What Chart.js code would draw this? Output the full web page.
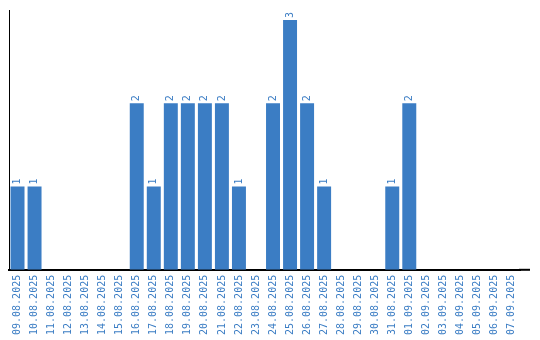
<!DOCTYPE html>
<html>
<head>
<meta charset="utf-8">
<script src="https://cdn.jsdelivr.net/npm/chart.js@4.4.1/dist/chart.umd.min.js"></script>
<style>
  html, body { margin: 0; padding: 0; background: #fff; }
  #wrap { width: 540px; height: 340px; }
</style>
</head>
<body>
<div id="wrap"><canvas id="dateChart"></canvas></div>
<script>
const dateLabels = [
  '09.08.2025', '10.08.2025', '11.08.2025', '12.08.2025', '13.08.2025',
  '14.08.2025', '15.08.2025', '16.08.2025', '17.08.2025', '18.08.2025',
  '19.08.2025', '20.08.2025', '21.08.2025', '22.08.2025', '23.08.2025',
  '24.08.2025', '25.08.2025', '26.08.2025', '27.08.2025', '28.08.2025',
  '29.08.2025', '30.08.2025', '31.08.2025', '01.09.2025', '02.09.2025',
  '03.09.2025', '04.09.2025', '05.09.2025', '06.09.2025', '07.09.2025'
];
const counts = [1, 1, 0, 0, 0, 0, 0, 2, 1, 2, 2, 2, 2, 1, 0, 2, 3, 2, 1, 0, 0, 0, 1, 2, 0, 0, 0, 0, 0, 0];

const blue = '#3b7dc4';
const monoFont = { family: 'DejaVu Sans Mono', size: 10 };

// draws the value above each bar, turned upright like the dates
const barValues = {
    id: 'barValues',
    afterDatasetsDraw(chart) {
        const ctx = chart.ctx;
        const meta = chart.getDatasetMeta(0);
        ctx.save();
        ctx.fillStyle = blue;
        ctx.font = '10px "DejaVu Sans Mono"';
        ctx.textAlign = 'left';
        ctx.textBaseline = 'middle';
        meta.data.forEach((bar, i) => {
            if (!counts[i]) return;
            ctx.save();
            ctx.translate(bar.x, bar.y - 2);
            ctx.rotate(-Math.PI / 2);
            ctx.fillText(String(counts[i]), 0, 0);
            ctx.restore();
        });
        // x axis line runs a little past the last day
        const area = chart.chartArea;
        ctx.strokeStyle = '#000';
        ctx.lineWidth = 2;
        ctx.beginPath();
        ctx.moveTo(area.right - 1, area.bottom);
        ctx.lineTo(area.right + 10, area.bottom);
        ctx.stroke();
        ctx.restore();
    }
};

const ctx = document.getElementById('dateChart').getContext('2d');
window.myChart = new Chart(ctx, {
    type: 'bar',
    data: {
        labels: dateLabels,
        datasets: [{
            data: counts,
            backgroundColor: blue,
            borderWidth: 0,
            barPercentage: 0.82,
            categoryPercentage: 1
        }]
    },
    options: {
        responsive: true,
        maintainAspectRatio: false,
        animation: false,
        layout: { padding: { left: 9, right: 20, top: 10, bottom: 0 } },
        plugins: {
            legend: { display: false },
            tooltip: { enabled: false }
        },
        scales: {
            x: {
                grid: { display: false, drawTicks: false },
                border: { display: true, color: '#000', width: 2 },
                ticks: {
                    color: blue,
                    font: monoFont,
                    minRotation: 90,
                    maxRotation: 90,
                    autoSkip: false,
                    padding: 5
                }
            },
            y: {
                beginAtZero: true,
                min: 0,
                max: 3.12,
                grid: { display: false, drawTicks: false },
                border: { display: true, color: '#000', width: 1 },
                ticks: { display: false }
            }
        }
    },
    plugins: [barValues]
});
</script>
</body>
</html>
